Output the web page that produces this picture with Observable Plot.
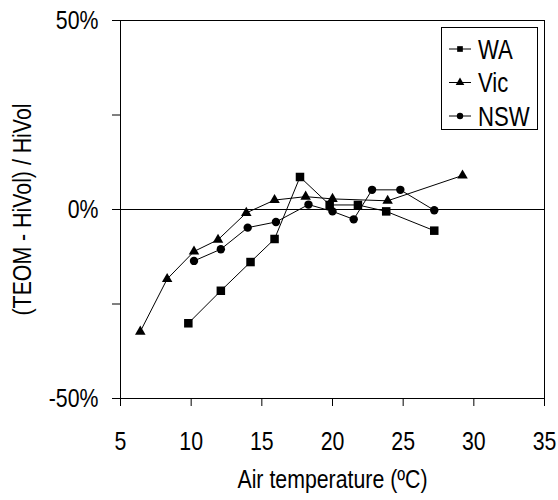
<!DOCTYPE html>
<html><head><meta charset="utf-8">
<script src="https://cdn.jsdelivr.net/npm/d3@7"></script>
<script src="https://cdn.jsdelivr.net/npm/@observablehq/plot@0.6"></script>
<style>
body{margin:0;background:#fff;}
#wrap{position:relative;width:558px;height:500px;font-family:"Liberation Sans",Arial,sans-serif;}
#legend{position:absolute;left:441px;top:27px;width:97px;height:103px;border:1px solid #000;box-sizing:border-box;background:#fff;}
#legend svg{overflow:visible;display:block;}
</style></head><body><div id="wrap"></div>
<script>
const seriesNames = ["WA", "Vic", "NSW"];
const waTemp = [9.8, 12.1, 14.2, 15.9, 17.7, 19.8, 21.8, 23.8, 27.2];
const waDiff = [-30.1, -21.5, -13.9, -7.8, 8.6, 1.2, 1.2, -0.5, -5.6];
const vicTemp = [6.4, 8.3, 10.2, 11.9, 13.9, 15.9, 18.1, 20.0, 23.9, 29.2];
const vicDiff = [-32.3, -18.4, -11.1, -8.0, -0.9, 2.5, 3.4, 2.8, 2.3, 9.0];
const nswTemp = [10.2, 12.1, 14.0, 16.0, 18.3, 20.0, 21.5, 22.8, 24.8, 27.2];
const nswDiff = [-13.6, -10.5, -4.8, -3.3, 1.3, -0.5, -2.6, 5.2, 5.2, -0.2];
const xTicks = [5, 10, 15, 20, 25, 30, 35];
const yTicks = [-50, -25, 0, 25, 50];
const yTickLabels = ["-50%", "", "0%", "", "50%"];

const temps = {WA: waTemp, Vic: vicTemp, NSW: nswTemp};
const diffs = {WA: waDiff, Vic: vicDiff, NSW: nswDiff};
const rows = seriesNames.flatMap(s => temps[s].map((t, i) => ({series: s, temp: t, diff: diffs[s][i]})));
const symbols = {WA: "square", Vic: "triangle", NSW: "circle"};
const radii = {WA: 4.8, Vic: 3.9, NSW: 4.2};
const font = '"Liberation Sans", Arial, sans-serif';
const narrow = 0.82; // horizontal condensing of text (reference uses a narrow face)

const chart = Plot.plot({
  width: 558, height: 500,
  marginLeft: 120, marginRight: 14, marginTop: 20, marginBottom: 102,
  style: {fontFamily: font, fontSize: "26px", color: "#000", background: "#fff"},
  x: {domain: [5, 35]},
  y: {domain: [-50, 50]},
  marks: [
    Plot.frame({stroke: "#000", strokeWidth: 1}),
    Plot.ruleY([0], {stroke: "#000", strokeWidth: 1}),
    Plot.axisX({ticks: xTicks, tickSize: 8, tickPadding: 25, tickFormat: d => String(d), fontSize: 26,
      label: "Air temperature (ºC)", labelAnchor: "center", labelArrow: "none", labelOffset: 89}),
    Plot.axisY({ticks: yTicks, tickSize: 8, tickPadding: 14, fontSize: 26,
      tickFormat: d => yTickLabels[yTicks.indexOf(d)],
      label: "(TEOM - HiVol) / HiVol", labelAnchor: "center", labelArrow: "none", labelOffset: 108}),
    ...seriesNames.map(s => Plot.line(rows.filter(r => r.series === s), {x: "temp", y: "diff", stroke: "#000", strokeWidth: 1})),
    ...seriesNames.map(s => Plot.dot(rows.filter(r => r.series === s), {x: "temp", y: "diff", symbol: symbols[s], r: radii[s], fill: "#000", stroke: "none"}))
  ]
});

function scaleAttr(el, name) {
  const v = el.getAttribute(name);
  if (v === null) return;
  const m = /^\s*(-?[\d.]+)([a-z%]*)\s*$/i.exec(v);
  if (m) el.setAttribute(name, (parseFloat(m[1]) / narrow) + m[2]);
}
function condense(root) {
  root.querySelectorAll("text").forEach(t => {
    const tr = t.getAttribute("transform") || "";
    t.setAttribute("transform", (tr + ` scale(${narrow},1)`).trim());
    [t, ...t.querySelectorAll("tspan")].forEach(el => { scaleAttr(el, "x"); scaleAttr(el, "dx"); });
  });
}
condense(chart);
const wrap = document.getElementById("wrap");
wrap.appendChild(chart);

// legend
const leg = document.createElement("div");
leg.id = "legend";
wrap.appendChild(leg);
const ls = d3.select(leg).append("svg").attr("width", 95).attr("height", 101);
seriesNames.forEach((s, i) => {
  const g = ls.append("g").attr("transform", `translate(0,${21 + i * 33.5})`);
  g.append("line").attr("x1", 7).attr("x2", 29).attr("stroke", "#000");
  const typ = {square: d3.symbolSquare, triangle: d3.symbolTriangle, circle: d3.symbolCircle}[symbols[s]];
  g.append("path").attr("transform", "translate(18,0)").attr("d", d3.symbol(typ, Math.PI * 3.2 * 3.2)()).attr("fill", "#000");
  g.append("text").attr("x", 36).attr("y", 0).attr("dy", "0.36em").attr("font-family", font).attr("font-size", 27).text(s);
});
condense(leg);
</script></body></html>
